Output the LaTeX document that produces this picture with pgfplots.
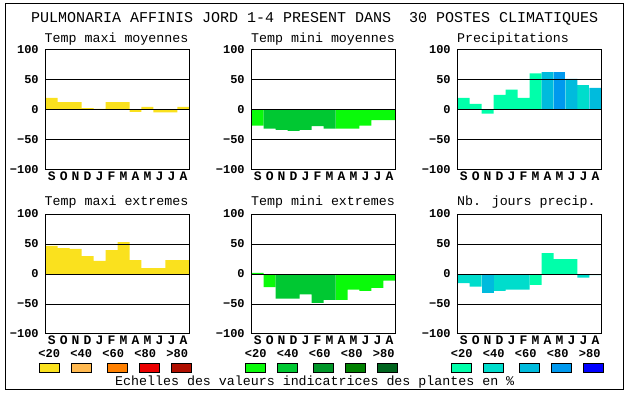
\documentclass[border=0pt]{standalone}
\usepackage{pgfplots}
\pgfplotsset{compat=1.18}
\usepackage{fontspec}
\setmainfont{Liberation Mono}
\definecolor{cY}{RGB}{250,225,30}
\definecolor{cY1}{RGB}{250,225,30}
\definecolor{cY2}{RGB}{255,185,80}
\definecolor{cY3}{RGB}{255,128,0}
\definecolor{cY4}{RGB}{235,0,0}
\definecolor{cY5}{RGB}{175,15,0}
\definecolor{cG1}{RGB}{10,250,10}
\definecolor{cG2}{RGB}{0,200,50}
\definecolor{cG3}{RGB}{0,150,40}
\definecolor{cG4}{RGB}{0,128,0}
\definecolor{cG5}{RGB}{0,100,30}
\definecolor{cB1}{RGB}{0,255,170}
\definecolor{cB2}{RGB}{0,221,204}
\definecolor{cB3}{RGB}{0,187,221}
\definecolor{cB4}{RGB}{0,153,238}
\definecolor{cB5}{RGB}{0,0,255}
\newcommand\titlefont{\fontsize{15}{18}\selectfont}
\newcommand\subfont{\fontsize{13.3}{16}\selectfont}
\newcommand\tickfont{\fontsize{12}{14}\selectfont\bfseries}
\newcommand\monthfont{\fontsize{13}{15}\selectfont\bfseries}
\pgfplotsset{
  panel/.style={
    scale only axis, width=143.7pt, height=120pt,
    xmin=-0.5, xmax=11.5, ymin=-100, ymax=100,
    ytick={-100,-50,0,50,100}, yticklabels={−100,−50,0,50,100},
    xtick={0,...,11}, xticklabels={S,O,N,D,J,F,M,A,M,J,J,A},
    major tick length=0pt,
    ymajorgrids, grid style={black, line width=1pt},
    axis line style={line width=1pt},
    axis on top,
    yticklabel style={font=\tickfont, xshift=-3.5pt},
    xticklabel style={font=\monthfont, yshift=1.5pt},
  },
  bars/.style={ybar, bar width=1, bar shift=0pt, draw=none, fill=#1},
}
\begin{document}
\begin{tikzpicture}[x=1pt,y=1pt]
\path[use as bounding box] (0,0) rectangle (630,394);
\draw[line width=1pt] (5,4) rectangle (623,390);
\node[anchor=base west, font=\titlefont, inner sep=0] at (31,371) {PULMONARIA AFFINIS JORD 1-4 PRESENT DANS\ \ 30 POSTES CLIMATIQUES};
% subtitles
\node[anchor=base west, font=\subfont, inner sep=0] at (44.5,351.3) {Temp maxi moyennes};
\node[anchor=base west, font=\subfont, inner sep=0] at (251,351.3) {Temp mini moyennes};
\node[anchor=base west, font=\subfont, inner sep=0] at (457,351.3) {Precipitations};
\node[anchor=base west, font=\subfont, inner sep=0] at (44.5,188) {Temp maxi extremes};
\node[anchor=base west, font=\subfont, inner sep=0] at (251,188) {Temp mini extremes};
\node[anchor=base west, font=\subfont, inner sep=0] at (457,188) {Nb. jours precip.};

% Panel 1: Temp maxi moyennes
\begin{axis}[panel, at={(45.7pt,224pt)}]
\addplot[bars=cY] coordinates {(0,20)(1,13)(2,13)(3,3)(4,2)(5,13)(6,13)(7,-3)(8,5)(9,-4)(10,-4)(11,5)};
\end{axis}
% Panel 2: Temp mini moyennes
\begin{axis}[panel, at={(251.7pt,224pt)}]
\addplot[bars=cG1] coordinates {(0,-26)(7,-31)(8,-31)(9,-26)(10,-17)(11,-17)};
\addplot[bars=cG2] coordinates {(1,-31)(2,-33)(3,-35)(4,-33)(5,-27)(6,-31)};
\end{axis}
% Panel 3: Precipitations
\begin{axis}[panel, at={(457.7pt,224pt)}]
\addplot[bars=cB1] coordinates {(0,20)(1,10)(2,-6)(3,25)(4,34)(5,20)(6,61)};
\addplot[bars=cB2] coordinates {(10,42)};
\addplot[bars=cB3] coordinates {(7,63)(9,52)(11,37)};
\addplot[bars=cB4] coordinates {(8,63)};
\end{axis}
% Panel 4: Temp maxi extremes
\begin{axis}[panel, at={(45.7pt,60pt)}]
\addplot[bars=cY] coordinates {(0,47)(1,43)(2,42)(3,30)(4,22)(5,40)(6,53)(7,23)(8,10)(9,10)(10,23)(11,23)};
\end{axis}
% Panel 5: Temp mini extremes
\begin{axis}[panel, at={(251.7pt,60pt)}]
\addplot[bars=cG1] coordinates {(0,2)(1,-22)(7,-43)(8,-26)(9,-28)(10,-23)(11,-11)};
\addplot[bars=cG2] coordinates {(2,-41)(3,-41)(4,-34)(5,-48)(6,-43)};
\end{axis}
% Panel 6: Nb jours precip
\begin{axis}[panel, at={(457.7pt,60pt)}]
\addplot[bars=cB1] coordinates {(6,-18)(7,35)(8,25)(9,25)};
\addplot[bars=cB2] coordinates {(0,-15)(1,-21)(3,-28)(4,-26)(5,-26)(10,-6)(11,-2)};
\addplot[bars=cB3] coordinates {(2,-31)};
\end{axis}

% legends
\foreach \b/\p in {39.3/Y,245.7/G,451.7/B}{
  \foreach \o/\lo/\lab/\i in {0/10/{<20}/1,32/42/{<40}/2,67.7/74/{<60}/3,100/106/{<80}/4,132/138/{>80}/5}{
    \node[font=\tickfont, inner sep=0] at (\b+\lo,40.2) {\lab};
    \draw[line width=1pt, fill=c\p\i] (\b+\o,21) rectangle (\b+\o+20,30);
  }
}
\node[anchor=base west, font=\subfont, inner sep=0] at (115,8) {Echelles des valeurs indicatrices des plantes en \%};
\end{tikzpicture}
\end{document}
